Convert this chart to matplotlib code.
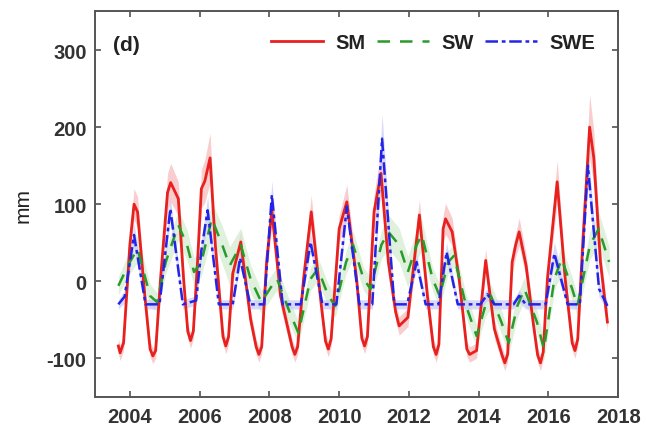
import numpy as np
import matplotlib
matplotlib.use("Agg")
import matplotlib.pyplot as plt

plt.rcParams["font.family"] = ["Liberation Sans", "DejaVu Sans"]
plt.rcParams["axes.unicode_minus"] = False

# SM (soil moisture)
t_sm = [2003.67, 2003.72, 2003.82, 2004.00, 2004.12, 2004.22, 2004.43, 2004.58, 2004.66, 2004.74,
        2004.88, 2005.08, 2005.17, 2005.39, 2005.54, 2005.66, 2005.74, 2005.82, 2005.94, 2006.05,
        2006.15, 2006.30, 2006.45, 2006.67, 2006.75, 2006.83, 2006.95, 2007.18, 2007.46, 2007.62,
        2007.70, 2007.78, 2007.92, 2008.07, 2008.32, 2008.65, 2008.73, 2008.81, 2008.98, 2009.20,
        2009.49, 2009.61, 2009.69, 2009.77, 2010.00, 2010.22, 2010.50, 2010.65, 2010.73, 2010.81,
        2011.00, 2011.20, 2011.41, 2011.62, 2011.72, 2011.97, 2012.30, 2012.53, 2012.70, 2012.78,
        2012.86, 2012.98, 2013.05, 2013.24, 2013.44, 2013.66, 2013.74, 2013.94, 2014.20, 2014.45,
        2014.67, 2014.75, 2014.83, 2014.96, 2015.06, 2015.16, 2015.36, 2015.56, 2015.69, 2015.77,
        2015.85, 2015.97, 2016.25, 2016.48, 2016.68, 2016.76, 2016.84, 2016.98, 2017.18, 2017.30,
        2017.49, 2017.69]
sm = [-84, -93, -80, 47, 100, 90, -19, -88, -97, -90,
      3, 115, 128, 107, 3, -65, -77, -65, 25, 120,
      130, 160, 47, -72, -84, -72, 10, 51, -49, -85,
      -95, -85, 25, 92, -19, -85, -95, -85, 3, 90,
      -32, -78, -88, -75, 68, 103, 3, -74, -84, -72,
      90, 140, 25, -40, -58, -47, 86, -19, -85, -95,
      -82, 68, 81, 64, 3, -88, -95, -90, 27, -62,
      -96, -106, -95, 25, 47, 64, 20, -53, -96, -106,
      -92, 3, 129, 3, -80, -90, -75, 47, 200, 160,
      25, -53]
sm_err = [10, 10, 10, 15, 20, 20, 15, 10, 10, 10,
          12, 25, 25, 22, 15, 10, 10, 10, 15, 25,
          28, 32, 18, 10, 10, 10, 12, 15, 12, 10,
          10, 10, 15, 22, 15, 10, 10, 10, 12, 22,
          12, 10, 10, 10, 18, 22, 15, 10, 10, 10,
          22, 30, 18, 12, 12, 12, 20, 15, 10, 10,
          10, 18, 20, 18, 12, 10, 10, 10, 15, 12,
          10, 10, 10, 15, 15, 18, 15, 12, 10, 10,
          10, 12, 28, 15, 10, 10, 10, 18, 42, 35,
          18, 12]

# SW (surface water)
t_sw = [2003.67, 2004.00, 2004.22, 2004.58, 2004.78, 2005.03, 2005.39, 2005.64, 2005.84, 2006.05,
        2006.35, 2006.65, 2006.86, 2007.18, 2007.46, 2007.77, 2008.07, 2008.22, 2008.58, 2008.83,
        2009.18, 2009.39, 2009.69, 2009.89, 2010.20, 2010.40, 2010.70, 2010.90, 2011.21, 2011.41,
        2011.72, 2011.97, 2012.22, 2012.37, 2012.68, 2012.88, 2013.13, 2013.29, 2013.64, 2013.94,
        2014.19, 2014.35, 2014.65, 2014.86, 2015.11, 2015.31, 2015.67, 2015.87, 2016.17, 2016.38,
        2016.68, 2016.83, 2017.19, 2017.44, 2017.74]
sw = [-6, 25, 42, -19, -27, 25, 73, 47, 12, 25,
      81, 47, 20, 47, 3, -27, -6, 3, -40, -67,
      3, 16, -19, -32, 25, 47, 3, -10, 47, 64,
      47, 12, 47, 60, 3, -19, 25, 33, -32, -71,
      -32, -19, -53, -80, -32, -10, -53, -88, 3, 29,
      -10, -32, 47, 68, 25]
sw_err = [12, 15, 18, 15, 12, 15, 20, 20, 18, 18,
          22, 25, 25, 22, 18, 15, 15, 15, 15, 15,
          15, 15, 15, 15, 15, 18, 15, 15, 18, 22,
          22, 20, 20, 20, 15, 15, 15, 15, 15, 15,
          15, 15, 15, 15, 15, 15, 15, 15, 15, 18,
          15, 15, 18, 22, 20]

# SWE (snow water equivalent)
t_swe = [2003.67, 2003.85, 2004.12, 2004.45, 2004.85, 2005.16, 2005.52, 2005.90, 2006.05, 2006.23, 2006.55,
         2006.95, 2007.16, 2007.45, 2007.85, 2008.07, 2008.38, 2008.90, 2009.18, 2009.52, 2009.92,
         2010.22, 2010.58, 2010.95, 2011.23, 2011.58, 2011.95, 2012.22, 2012.48, 2012.85, 2013.08,
         2013.40, 2014.05, 2014.25, 2014.45, 2015.00, 2015.16, 2015.35, 2015.92, 2016.17, 2016.55,
         2016.90, 2017.13, 2017.45, 2017.69]
swe = [-30, -20, 60, -30, -30, 94, -30, -25, 40, 92, -30,
       -30, 30, -30, -30, 112, -30, -30, 51, -30, -30,
       97, -30, -30, 185, -30, -30, 25, -30, -30, 38,
       -30, -30, -17, -30, -30, -19, -30, -30, 36, -30,
       -30, 150, -10, -32]
swe_err = [6, 8, 15, 6, 6, 15, 6, 6, 12, 18, 6,
           6, 10, 6, 6, 18, 6, 6, 12, 6, 6,
           15, 6, 6, 32, 6, 6, 10, 6, 6, 12,
           6, 6, 8, 6, 6, 8, 6, 6, 15, 6,
           6, 25, 10, 6]

years = [2004, 2006, 2008, 2010, 2012, 2014, 2016, 2018]
yticks = [-100, 0, 100, 200, 300]

fig = plt.figure(figsize=(6.46, 4.31), dpi=100)
ax = fig.add_axes([0.147, 0.077, 0.810, 0.894])

series = [
    (t_sm, sm, sm_err, "SM", "#e8201e", "#f7b8b8", "-", 2.0),
    (t_sw, sw, sw_err, "SW", "#2a9a2a", "#d2ebce", (0, (5, 4)), 1.8),
    (t_swe, swe, swe_err, "SWE", "#2424e6", "#c8c8f7", (0, (5, 1.5, 1.5, 1.5)), 1.8),
]
for t, v, e, lab, c, fc, ls, lw in series:
    v = np.array(v, float); e = np.array(e, float)
    ax.fill_between(t, v - e, v + e, color=fc, alpha=0.7, lw=0)
for t, v, e, lab, c, fc, ls, lw in series:
    ax.plot(t, v, color=c, ls=ls, lw=lw, label=lab)

ax.set_xlim(2003, 2018)
ax.set_ylim(-150, 350)
ax.set_xticks(years)
ax.set_yticks(yticks)
ax.tick_params(direction="in", length=4, width=1.1, top=True, right=True,
               labelsize=14.5, colors="#444444", labelcolor="#333333")
ax.tick_params(axis="x", pad=7)
ax.tick_params(axis="y", pad=6)
for lbl in ax.get_xticklabels() + ax.get_yticklabels():
    lbl.set_fontweight("bold")
for s in ax.spines.values():
    s.set_color("#555555"); s.set_linewidth(1.4)

ax.set_ylabel("mm", fontsize=15, color="#222222", labelpad=10)
ax.text(0.034, 0.915, "(d)", transform=ax.transAxes, fontsize=15, fontweight="bold",
        color="#222222", va="center")

leg = ax.legend(loc="upper right", ncol=3, frameon=False,
                handlelength=2.6, handletextpad=0.6, columnspacing=0.55,
                bbox_to_anchor=(0.99, 0.99), prop={"weight": "bold", "size": 14.5})
for txt in leg.get_texts():
    txt.set_color("#222222")

fig.savefig("out.png", dpi=100)
